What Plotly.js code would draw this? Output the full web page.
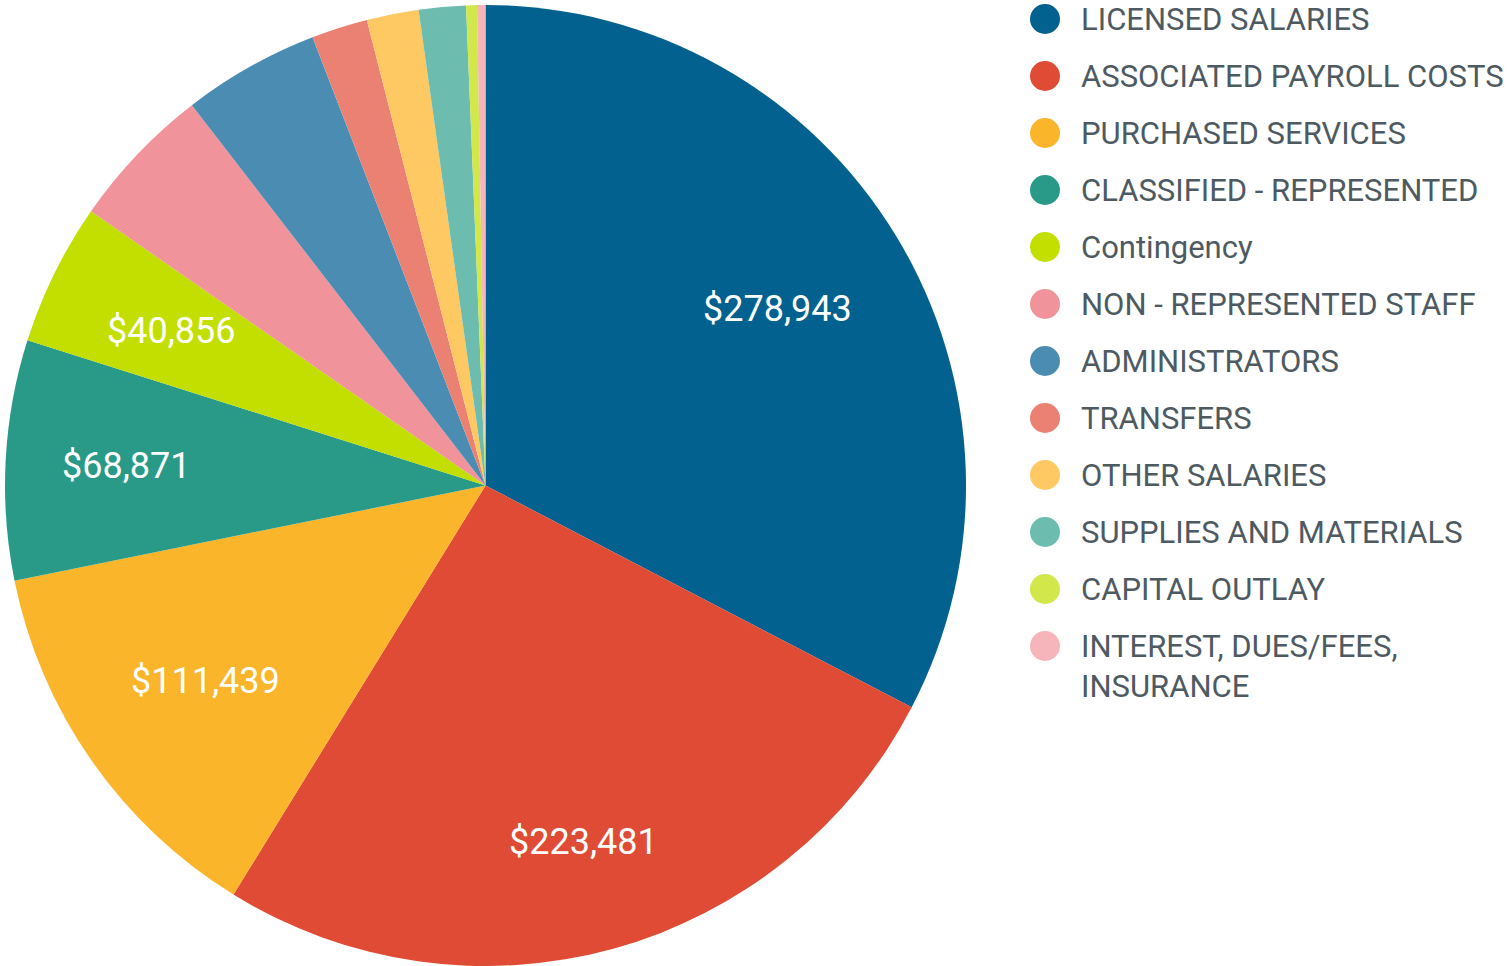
<!DOCTYPE html>
<html>
<head>
<meta charset="utf-8">
<script src="https://cdn.plot.ly/plotly-3.0.1.min.js"></script>
<style>html,body{margin:0;padding:0;background:#fff;}#chart{width:1508px;height:966px;}</style>
</head>
<body>
<div id="chart"></div>
<script>
const categories = [
  "LICENSED SALARIES",
  "ASSOCIATED PAYROLL COSTS",
  "PURCHASED SERVICES",
  "CLASSIFIED - REPRESENTED",
  "Contingency",
  "NON - REPRESENTED STAFF",
  "ADMINISTRATORS",
  "TRANSFERS",
  "OTHER SALARIES",
  "SUPPLIES AND MATERIALS",
  "CAPITAL OUTLAY",
  "INTEREST, DUES/FEES,<br>INSURANCE"
];
const amounts = [278943, 223481, 111439, 68871, 40856, 41610, 39340, 16140, 14930, 13510, 3110, 2400];
const labelledSlices = [true, true, true, true, true, false, false, false, false, false, false, false];
const colors = ["#02618f", "#e04b35", "#fbb52a", "#2a9a88", "#c2df00", "#f0939a",
                "#4b8db2", "#ea8172", "#fec863", "#6dbcb0", "#d2e74a", "#f6b5bb"];

const W = 1508, H = 966;
// pie geometry (pixels)
const cx = 485.5, cy0 = 485.5, R = 480.5;
const pieDomain = {x: [(cx - R) / W, (cx + R) / W], y: [(H - cy0 - R) / H, (H - cy0 + R) / H]};
// radial position of each value label, as a fraction of the radius
const labelRadius = [0.71, 0.77, 0.71, 0.75, 0.73];

const pieTrace = {
  type: "pie",
  labels: categories,
  values: amounts,
  textinfo: "none",
  sort: false,
  direction: "clockwise",
  rotation: 0,
  marker: {colors: colors, line: {width: 0}},
  domain: pieDomain,
  showlegend: false,
  hoverinfo: "label+value"
};

const shapes = [];
const annotations = [];

// value labels at slice bisectors
const total = amounts.reduce((a, b) => a + b, 0);
let cum = 0;
amounts.forEach((v, i) => {
  const mid = (cum + v / 2) / total * 2 * Math.PI;
  cum += v;
  if (!labelledSlices[i]) return;
  const r = labelRadius[i] * R;
  const px = cx + r * Math.sin(mid);
  const py = cy0 - r * Math.cos(mid);
  annotations.push({
    xref: "paper", yref: "paper",
    x: px / W, y: 1 - py / H,
    xanchor: "center", yanchor: "middle",
    text: "$" + v.toLocaleString("en-US"), showarrow: false,
    font: {family: "Roboto, sans-serif", size: 36, color: "#ffffff"}
  });
});

// custom legend with circular swatches
const rowStart = 19, rowStep = 57, circleX = 1045, circleR = 15, textX = 1079;
categories.forEach((c, i) => {
  const cy = rowStart + rowStep * i;
  shapes.push({
    type: "circle", xref: "paper", yref: "paper",
    x0: (circleX - circleR) / W, x1: (circleX + circleR) / W,
    y0: 1 - (cy + circleR) / H, y1: 1 - (cy - circleR) / H,
    fillcolor: colors[i], line: {width: 0}
  });
  annotations.push({
    xref: "paper", yref: "paper",
    x: textX / W, y: 1 - (cy - 20) / H,
    xanchor: "left", yanchor: "top", align: "left",
    text: c, showarrow: false,
    font: {family: "Roboto, sans-serif", size: 31, color: "#4e5a62"}
  });
});

const layout = {
  width: W, height: H,
  margin: {l: 0, r: 0, t: 0, b: 0},
  paper_bgcolor: "#ffffff",
  plot_bgcolor: "#ffffff",
  showlegend: false,
  shapes: shapes,
  annotations: annotations
};

Plotly.newPlot("chart", [pieTrace], layout, {displayModeBar: false, staticPlot: true});
</script>
</body>
</html>
